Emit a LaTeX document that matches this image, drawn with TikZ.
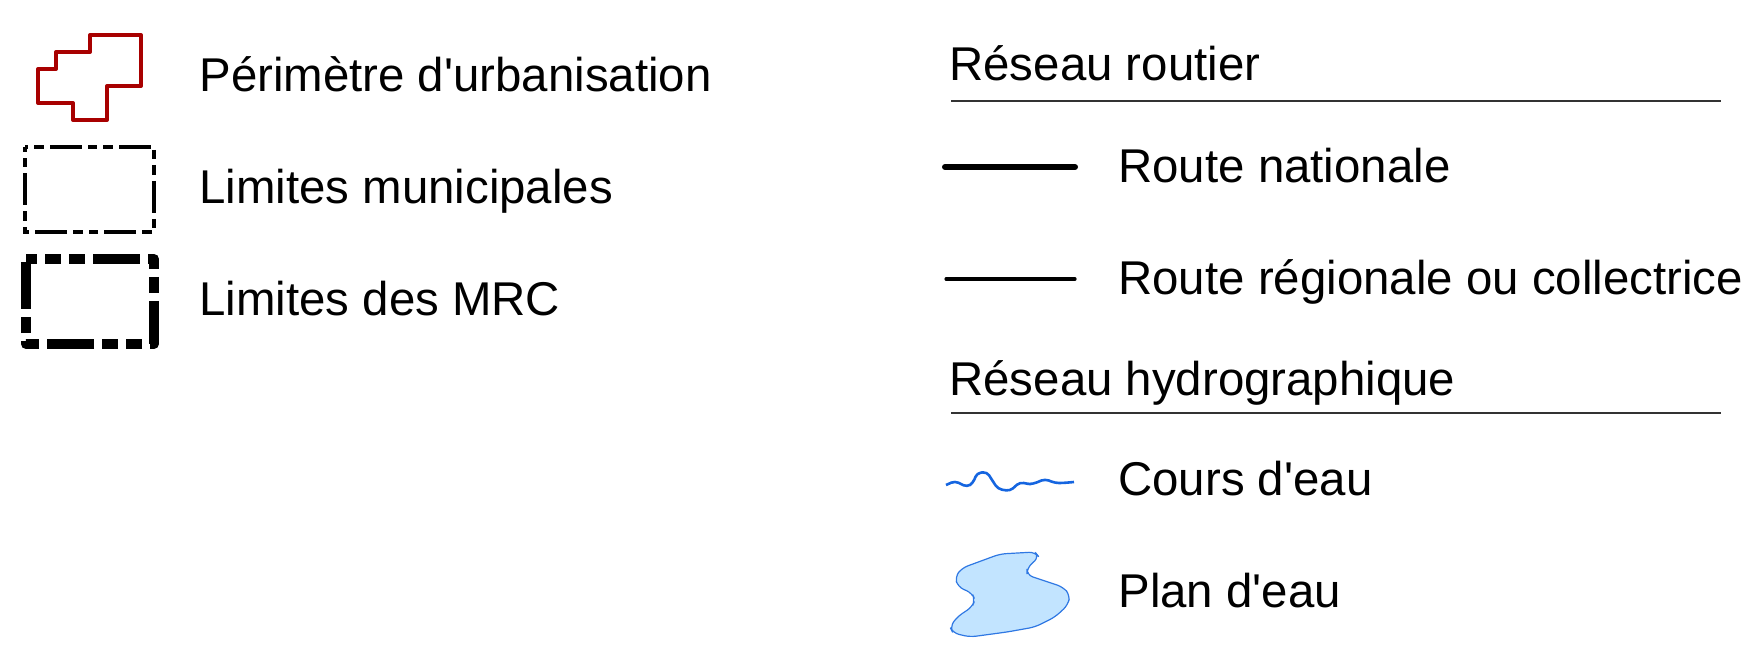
\documentclass[tikz,border=0pt]{standalone}
\usepackage{fontspec}
\setmainfont{Liberation Sans}
\usetikzlibrary{positioning}
\definecolor{urbred}{HTML}{A80000}
\definecolor{riverblue}{HTML}{1565E0}
\definecolor{lakefill}{HTML}{C2E4FF}
\definecolor{lakeline}{HTML}{2F78E3}
\newcommand{\apos}{\textquotesingle}

\begin{document}
\begin{tikzpicture}[
x=0.5pt, y=-0.5pt,
legtext/.style={
  anchor=base west,
  inner sep=0pt,
  font=\fontsize{23.7}{28}\selectfont
  },
perimline/.style={
  draw=urbred,
  line width=2pt,
  line join=round
  },
municline/.style={
  draw,
  line width=2.2pt,
  dash pattern=on 16pt off 3pt on 4.5pt off 3pt on 5pt off 3pt,
  dash phase=22pt
  },
mrcline/.style={
  draw,
  line width=5pt,
  line join=round,
  dash pattern=on 23.5pt off 4pt on 8pt off 4pt on 8pt off 4pt,
  dash phase=18pt
  },
rule/.style={
  draw=black!80,
  line width=0.6pt
  }
]
\useasboundingbox (0,0) rectangle (1748,646);

% left column
\draw[perimline] (90,35) -- (141,35) -- (141,86) -- (107,86) -- (107,120)
  -- (73,120) -- (73,103) -- (38,103) -- (38,69) -- (56,69) -- (56,52)
  -- (90,52) -- cycle;
\draw[municline] (25,147) -- (154,147) -- (154,232) -- (25,232) -- cycle;
\draw[mrcline] (26,259) -- (154,259) -- (154,344) -- (26,344) -- cycle;

\node[legtext] (perim) at (199,92) {Périmètre d\apos urbanisation};
\node[legtext] (munic) at (199,204) {Limites municipales};
\node[legtext] (mrc) at (199,315) {Limites des MRC};

% right column
\node[legtext] (routier) at (949,81) {Réseau routier};
\coordinate (r1a) at (951,101);
\coordinate (r1b) at (1721,101);
\draw[rule] (r1a) -- (r1b);

\node[legtext] (nationale) at (1118,183) {Route nationale};
\draw[line width=3pt, line cap=round] (945,167) -- (1075,167);

\node[legtext] (regionale) at (1118,295) {Route régionale ou collectrice};
\draw[line width=1.6pt, line cap=round] (946,279) -- (1075,279);

\node[legtext] (hydro) at (949,395) {Réseau hydrographique};
\coordinate (r2a) at (951,413);
\coordinate (r2b) at (1721,413);
\draw[rule] (r2a) -- (r2b);

\node[legtext] (cours) at (1118,495) {Cours d\apos eau};
\draw[riverblue, line width=1.3pt, line join=round, rounded corners=2pt]
  (946,485) -- (955,481) -- (967,487) -- (973,483) -- (977,473) -- (987,472)
  -- (992,480) -- (998,489) -- (1010,491) -- (1020,482) -- (1027,484)
  -- (1033,484) -- (1045,479) -- (1055,483) -- (1063,483) -- (1074,482);

\node[legtext] (plan) at (1118,607) {Plan d\apos eau};
\draw[draw=lakeline, fill=lakefill, line width=0.6pt, rounded corners=3pt]
  (1000,554) -- (1035,552) -- (1039,557) -- (1027,568) -- (1027,575)
  -- (1063,587) -- (1070,595) -- (1068,605) -- (1055,617) -- (1035,627)
  -- (1007,632) -- (970,637) -- (953,633) -- (950,627) -- (957,617)
  -- (972,607) -- (975,600) -- (972,593) -- (958,587) -- (955,577)
  -- (962,568) -- cycle;
\end{tikzpicture}
\end{document}
